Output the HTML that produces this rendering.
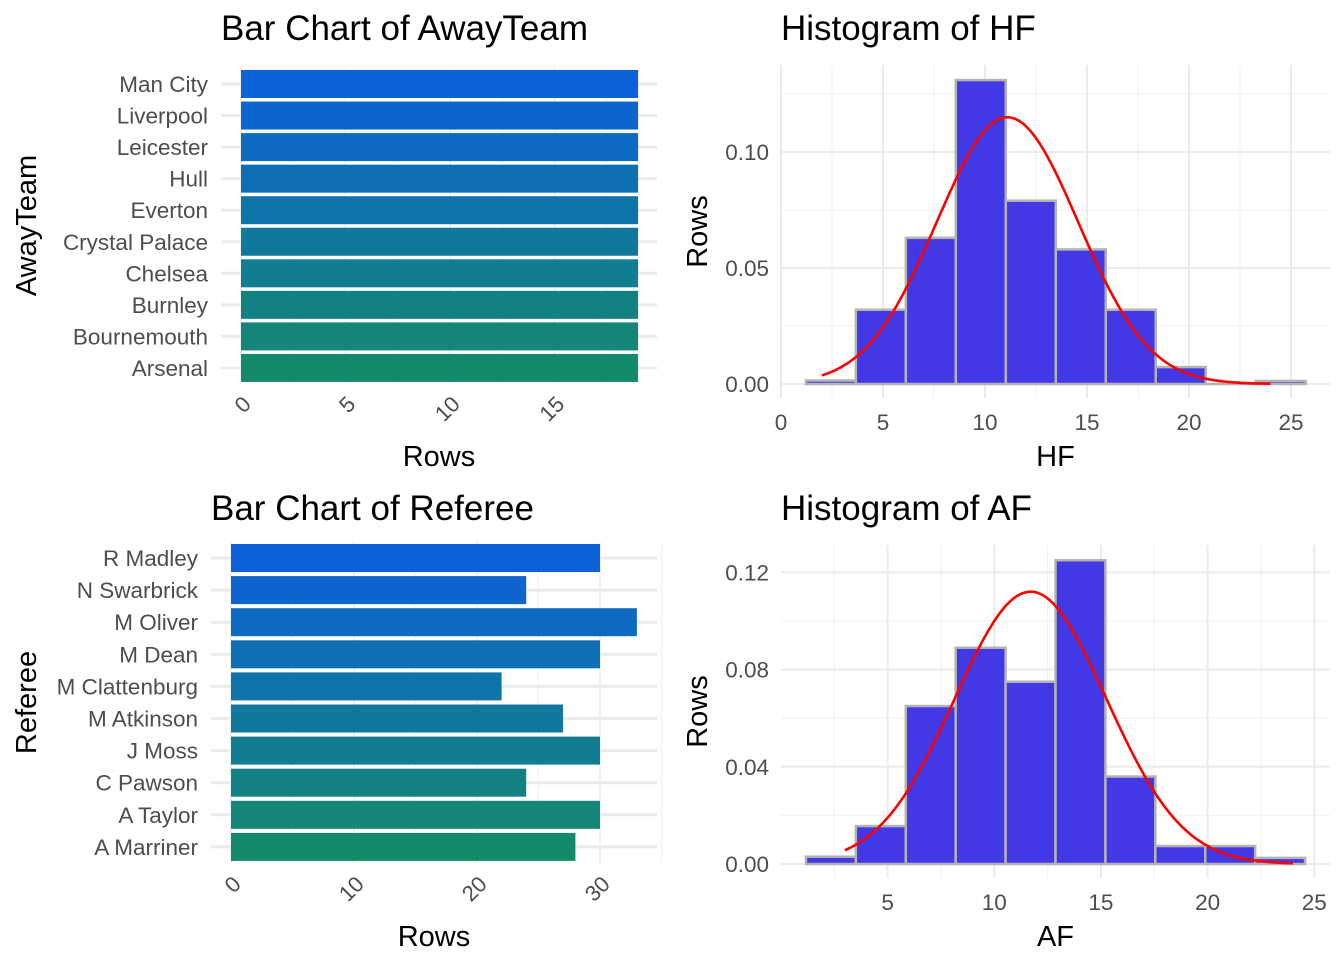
<!DOCTYPE html>
<html><head><meta charset="utf-8"><style>
body{margin:0;background:#fff;}
svg{font-family:"Liberation Sans",Arial,sans-serif;}
</style></head><body>
<svg id="c" width="1344" height="960" viewBox="0 0 1344 960"></svg>
<script>
const awayTeams=["Man City","Liverpool","Leicester","Hull","Everton","Crystal Palace","Chelsea","Burnley","Bournemouth","Arsenal"];
const awayCounts=[19,19,19,19,19,19,19,19,19,19];
const awayTicks=[0,5,10,15];
const referees=["R Madley","N Swarbrick","M Oliver","M Dean","M Clattenburg","M Atkinson","J Moss","C Pawson","A Taylor","A Marriner"];
const refCounts=[30,24,33,30,22,27,30,24,30,28];
const refTicks=[0,10,20,30];
const hfStart=1.22, hfWidth=2.45;
const hfDens=[0.0015,0.032,0.063,0.131,0.079,0.058,0.032,0.0073,0,0.0013];
const hfMean=11.1, hfSd=3.47, hfCurveRange=[2,24];
const hfXTicks=[0,5,10,15,20,25];
const hfYTicks=[0,0.05,0.10];
const hfYLabels=["0.00","0.05","0.10"];
const afStart=1.17, afWidth=2.34;
const afDens=[0.003,0.0156,0.065,0.089,0.075,0.125,0.036,0.0074,0.0074,0.0025];
const afMean=11.7, afSd=3.56, afCurveRange=[3,24];
const afXTicks=[5,10,15,20,25];
const afYTicks=[0,0.04,0.08,0.12];
const afYLabels=["0.00","0.04","0.08","0.12"];

const svg=document.getElementById('c');
const NS="http://www.w3.org/2000/svg";
function mk(tag,attrs,parent){const e=document.createElementNS(NS,tag);for(const k in attrs)e.setAttribute(k,attrs[k]);(parent||svg).appendChild(e);return e;}
function txt(s,attrs){const e=mk('text',attrs);e.textContent=s;return e;}
function lerpColor(t){const a=[11,98,217],b=[20,138,108];return `rgb(${a.map((v,i)=>Math.round(v+(b[i]-v)*t)).join(',')})`;}

function barChart(o){
  const g=mk('g',{});
  
  
  const xs=v=>o.x0+v*o.ppu;
  const n=o.cats.length;
  const yc=i=>o.yTop+i*o.step;
  for(let k=0;k<o.ticks.length;k++){const t=o.ticks[k];const h=o.ticks[1]/2;
    const ln=mk('line',{x1:xs(t+h),x2:xs(t+h),y1:o.pTop,y2:o.pBot,stroke:'#f2f2f2','stroke-width':1},g);
    }
  o.ticks.forEach(t=>{const ln=mk('line',{x1:xs(t),x2:xs(t),y1:o.pTop,y2:o.pBot,stroke:'#ebebeb','stroke-width':1.5},g);
    });
  o.cats.forEach((c,i)=>{const ln=mk('line',{x1:o.pLeft,x2:o.pRight,y1:yc(i),y2:yc(i),stroke:'#ebebeb','stroke-width':3},g);
    });
  o.cats.forEach((c,i)=>{
    const r=mk('rect',{x:xs(0),y:yc(i)-o.bh/2,width:xs(o.vals[i])-xs(0),height:o.bh,fill:lerpColor(i/(n-1))},g);
    
    
    const t=txt(c,{x:o.labelX,y:yc(i)+8,'text-anchor':'end','font-size':22.5,fill:'#4d4d4d'});
    
  });
  o.ticks.forEach(t=>{const x=xs(t),y=o.pBot+30;
    const e=txt(String(t),{x:x+7,y:y,'text-anchor':'end','font-size':22,fill:'#4d4d4d',transform:`rotate(-45 ${x} ${y-9})`});
    });
  const ti=txt(o.title,{x:o.titleX,y:o.titleY,'font-size':35,fill:'#000'});
  
  const xt=txt('Rows',{x:(o.pLeft+o.pRight)/2,y:o.xTitleY,'text-anchor':'middle','font-size':29,fill:'#000'});
  
  const cy=(o.pTop+o.pBot)/2;
  const yt=txt(o.yTitle,{x:36,y:cy,'text-anchor':'middle','font-size':29,fill:'#000',transform:`rotate(-90 36 ${cy})`});
  
}

function hist(o){
  const g=mk('g',{});
  
  
  const xs=v=>o.x0+v*o.xppu, ys=v=>o.y0-v*o.yppu;
  const xmin=(o.pLeft-o.x0)/o.xppu,xmax=(o.pRight-o.x0)/o.xppu;
  const xstep=o.xt[1]-o.xt[0];
  for(let t=o.xt[0]-xstep/2;t<=xmax;t+=xstep){if(t<xmin)continue;
    const l=mk('line',{x1:xs(t),x2:xs(t),y1:o.pTop,y2:o.pBot,stroke:'#f2f2f2','stroke-width':1.2},g);
    }
  const ystep=o.yt[1]-o.yt[0];
  for(let t=ystep/2;ys(t)>o.pTop;t+=ystep){const l=mk('line',{x1:o.pLeft,x2:o.pRight,y1:ys(t),y2:ys(t),stroke:'#f2f2f2','stroke-width':1.2},g);
    }
  o.xt.forEach(t=>{const l=mk('line',{x1:xs(t),x2:xs(t),y1:o.pTop,y2:o.pBot,stroke:'#ebebeb','stroke-width':2},g);
    
    const e=txt(String(t),{x:xs(t),y:o.pBot+32,'text-anchor':'middle','font-size':22.5,fill:'#4d4d4d'});
    });
  o.yt.forEach((t,i)=>{const l=mk('line',{x1:o.pLeft,x2:o.pRight,y1:ys(t),y2:ys(t),stroke:'#ebebeb','stroke-width':2},g);
    
    const e=txt(o.yl[i],{x:o.pLeft-12,y:ys(t)+8,'text-anchor':'end','font-size':22.5,fill:'#4d4d4d'});
    });
  o.dens.forEach((d,i)=>{const a=o.start+i*o.w;
    const r=mk('rect',{x:xs(a),y:ys(d),width:xs(a+o.w)-xs(a),height:Math.max(ys(0)-ys(d),0.01),fill:'#4338e6',stroke:'#b3b3b3','stroke-width':2.5},g);
    });
  let p='';
  for(let k=0;k<=200;k++){const x=o.cr[0]+(o.cr[1]-o.cr[0])*k/200;
    const y=Math.exp(-0.5*((x-o.mean)/o.sd)**2)/(o.sd*Math.sqrt(2*Math.PI));
    p+=(k?'L':'M')+xs(x).toFixed(1)+','+ys(y).toFixed(1);}
  const c=mk('path',{d:p,fill:'none',stroke:'#ff0000','stroke-width':2.6},g);
  
  const ti=txt(o.title,{x:781,y:o.titleY,'font-size':35,fill:'#000'});
  
  const xt=txt(o.xTitle,{x:(o.pLeft+o.pRight)/2,y:o.pBot+68,'text-anchor':'middle','font-size':29,fill:'#000'});
  
  const cy=(o.pTop+o.pBot)/2;
  const yt=txt('Rows',{x:707,y:cy,'text-anchor':'middle','font-size':29,fill:'#000',transform:`rotate(-90 707 ${cy})`});
  
}

barChart({name:'away-team-bar-chart',cats:awayTeams,vals:awayCounts,ticks:awayTicks,x0:241,ppu:20.9,yTop:84,step:31.55,bh:28,
  pLeft:221,pRight:657,pTop:68,pBot:383,labelX:208,title:'Bar Chart of AwayTeam',titleX:221,titleY:40,xTitleY:466,yTitle:'AwayTeam'});
barChart({name:'referee-bar-chart',cats:referees,vals:refCounts,ticks:refTicks,x0:231,ppu:12.3,yTop:558,step:32.1,bh:28,
  pLeft:211,pRight:657,pTop:542,pBot:863,labelX:198,title:'Bar Chart of Referee',titleX:211,titleY:520,xTitleY:946,yTitle:'Referee'});
hist({name:'hf-histogram',x0:781,xppu:20.4,y0:384,yppu:2320,pLeft:781,pRight:1330,pTop:65,pBot:398,
  xt:hfXTicks,yt:hfYTicks,yl:hfYLabels,dens:hfDens,start:hfStart,w:hfWidth,mean:hfMean,sd:hfSd,cr:hfCurveRange,
  title:'Histogram of HF',titleY:40,xTitle:'HF'});
hist({name:'af-histogram',x0:781,xppu:21.33,y0:864,yppu:2430,pLeft:781,pRight:1330,pTop:545,pBot:878,
  xt:afXTicks,yt:afYTicks,yl:afYLabels,dens:afDens,start:afStart,w:afWidth,mean:afMean,sd:afSd,cr:afCurveRange,
  title:'Histogram of AF',titleY:520,xTitle:'AF'});
</script>
</body></html>
